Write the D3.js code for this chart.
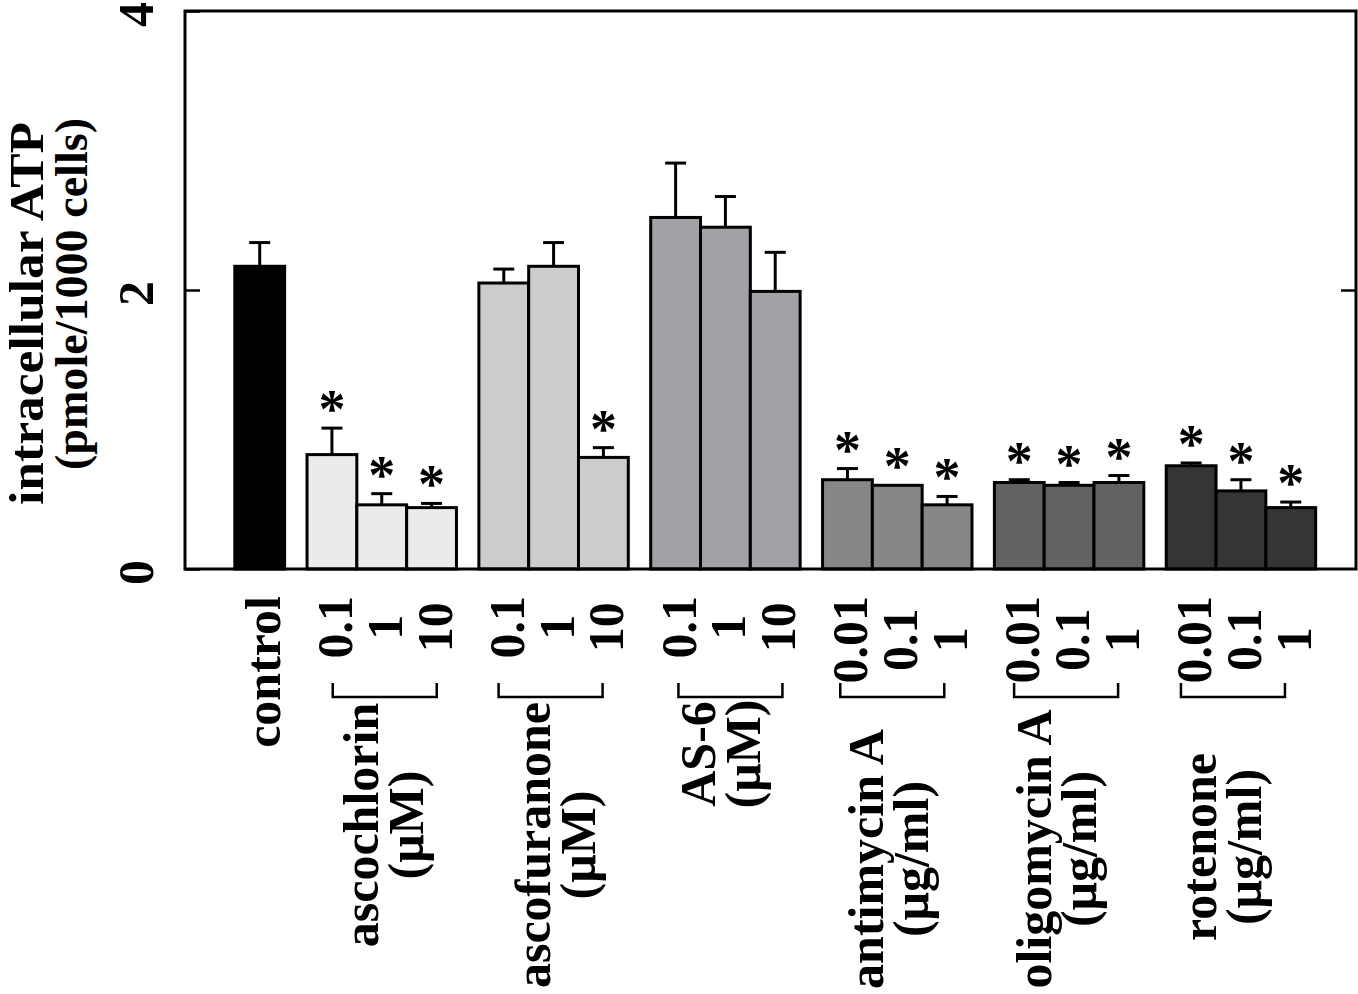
<!DOCTYPE html>
<html><head><meta charset="utf-8">
<script src="https://cdn.jsdelivr.net/npm/d3@7"></script>
<style>
body{margin:0;background:#fff}
svg{display:block}
text{font-family:"Liberation Serif","Times New Roman",serif;font-weight:bold;fill:#000}
</style>
</head><body><svg id="c" width="1358" height="994"></svg>
<script>
// ---- data ----
const groups = ["control","ascochlorin","ascofuranone","AS-6","antimycin A","oligomycin A","rotenone"];
const units = ["","(μM)","(μM)","(μM)","(μg/ml)","(μg/ml)","(μg/ml)"];
const doses = [["control"],["0.1","1","10"],["0.1","1","10"],["0.1","1","10"],["0.01","0.1","1"],["0.01","0.1","1"],["0.01","0.1","1"]];
const means = [[2.17],[0.82,0.46,0.44],[2.05,2.17,0.80],[2.52,2.45,1.99],[0.64,0.60,0.46],[0.62,0.60,0.62],[0.74,0.56,0.44]];
const errors = [[0.17],[0.19,0.08,0.03],[0.10,0.17,0.07],[0.39,0.22,0.28],[0.08,0.0,0.06],[0.02,0.02,0.05],[0.02,0.08,0.04]];
const significant = [[false],[true,true,true],[false,false,true],[false,false,false],[true,true,true],[true,true,true],[true,true,true]];
const colors = ["#000000","#ebebeb","#cccccc","#a2a2a6","#878787","#626262","#353535"];
const yTicks = [0,2,4];
const yTitle = ["intracellular ATP","(pmole/1000 cells)"];

// ---- layout ----
const M = {left:185, right:1356, top:11, bottom:569};
const padL = 1.0, gap = 0.45, totalUnits = 23.51;
const nameCenterY = [0, 825, 845, 754, 859, 849, 847];
const nameDx = [0, -4, -4, -10, -14, -18, -25];
const bracketDx = [0, 3, -3, 5, -5, -3, -8];

const svg = d3.select("#c");
const y = d3.scaleLinear().domain([0,4]).range([M.bottom, M.top]);
const x = d3.scaleLinear().domain([0,totalUnits]).range([M.left, M.right]);

const bars = [];
const groupInfo = [];
let pos = padL;
groups.forEach((g,gi)=>{
  const start = pos;
  means[gi].forEach((m,i)=>{
    bars.push({gi, i, u0: pos, u1: pos+1, mean: m, err: errors[gi][i], sig: significant[gi][i], dose: doses[gi][i]});
    pos += 1;
  });
  groupInfo.push({gi, start, end: pos});
  pos += gap;
});

// error bars
const eb = svg.append("g");
bars.forEach(b=>{
  const cx = (x(b.u0)+x(b.u1))/2;
  if (b.err > 0) {
    eb.append("line").attr("x1",cx).attr("x2",cx).attr("y1",y(b.mean)).attr("y2",y(b.mean+b.err))
      .attr("stroke","#000").attr("stroke-width",3);
    eb.append("line").attr("x1",cx-10.5).attr("x2",cx+10.5).attr("y1",y(b.mean+b.err)).attr("y2",y(b.mean+b.err))
      .attr("stroke","#000").attr("stroke-width",3);
  }
});

// bars
svg.append("g").selectAll("rect").data(bars).join("rect")
  .attr("x", d=>x(d.u0)).attr("width", d=>x(d.u1)-x(d.u0))
  .attr("y", d=>y(d.mean)).attr("height", d=>y(0)-y(d.mean))
  .attr("fill", d=>colors[d.gi]).attr("stroke","#000").attr("stroke-width",3);

// stars
svg.append("g").selectAll("text").data(bars.filter(d=>d.sig)).join("text")
  .attr("x", d=>(x(d.u0)+x(d.u1))/2)
  .attr("y", d=>y(d.mean+d.err)-1)
  .attr("text-anchor","middle").attr("font-size",54).text("*");

// frame
svg.append("rect").attr("x",M.left).attr("y",M.top).attr("width",M.right-M.left).attr("height",M.bottom-M.top)
  .attr("fill","none").attr("stroke","#000").attr("stroke-width",3);

// left axis
const yAxis = d3.axisLeft(y).tickValues(yTicks).tickSize(-15).tickFormat(d3.format("d"));
const ya = svg.append("g").attr("transform",`translate(${M.left},0)`).call(yAxis);
ya.select(".domain").remove();
ya.selectAll(".tick line").attr("stroke","#000").attr("stroke-width",2.5);
ya.selectAll(".tick text").remove();
ya.selectAll(".tick").append("text")
  .attr("transform","translate(-32,3) rotate(-90)")
  .attr("text-anchor","middle")
  .attr("font-size",50).text(d=>d3.format("d")(d));
// right ticks
const yAxisR = d3.axisRight(y).tickValues([2]).tickSize(-15).tickFormat("");
const yr = svg.append("g").attr("transform",`translate(${M.right},0)`).call(yAxisR);
yr.select(".domain").remove();
yr.selectAll(".tick line").attr("stroke","#000").attr("stroke-width",2.5);

// y title
svg.append("text").attr("transform","translate(43,122) rotate(-90)").attr("text-anchor","end")
  .attr("font-size",48).attr("textLength",383).attr("lengthAdjust","spacingAndGlyphs").text(yTitle[0]);
svg.append("text").attr("transform","translate(87,118) rotate(-90)").attr("text-anchor","end")
  .attr("font-size",46).attr("textLength",352).attr("lengthAdjust","spacingAndGlyphs").text(yTitle[1]);

// dose labels
const doseTop = 596;
groupInfo.forEach(gInfo=>{
  const gi = gInfo.gi;
  const gb = bars.filter(b=>b.gi===gi);
  const tg = svg.append("g");
  const texts = tg.selectAll("text").data(gb).join("text")
    .attr("font-size",50).attr("text-anchor","middle").text(d=>d.dose);
  let maxLen = 0;
  texts.each(function(){ maxLen = Math.max(maxLen, this.getComputedTextLength()); });
  texts.attr("transform", d=>`translate(${(x(d.u0)+x(d.u1))/2+20},${doseTop+maxLen/2}) rotate(-90)`);

  if (gi>0) {
    const cx = (x(gInfo.start)+x(gInfo.end))/2;
    const bc = cx + bracketDx[gi];
    const bx0 = bc-52, bx1 = bc+52, by = 697;
    svg.append("path").attr("d",`M${bx0},${by-14}V${by}H${bx1}V${by-14}`)
      .attr("fill","none").attr("stroke","#000").attr("stroke-width",2.5);
    const cy = nameCenterY[gi];
    const lx = cx + nameDx[gi];
    svg.append("text").attr("transform",`translate(${lx},${cy}) rotate(-90)`)
      .attr("text-anchor","middle").attr("font-size",50).text(groups[gi]);
    svg.append("text").attr("transform",`translate(${lx+45},${cy}) rotate(-90)`)
      .attr("text-anchor","middle").attr("font-size",50).text(units[gi]);
  }
});
</script>
</body></html>
